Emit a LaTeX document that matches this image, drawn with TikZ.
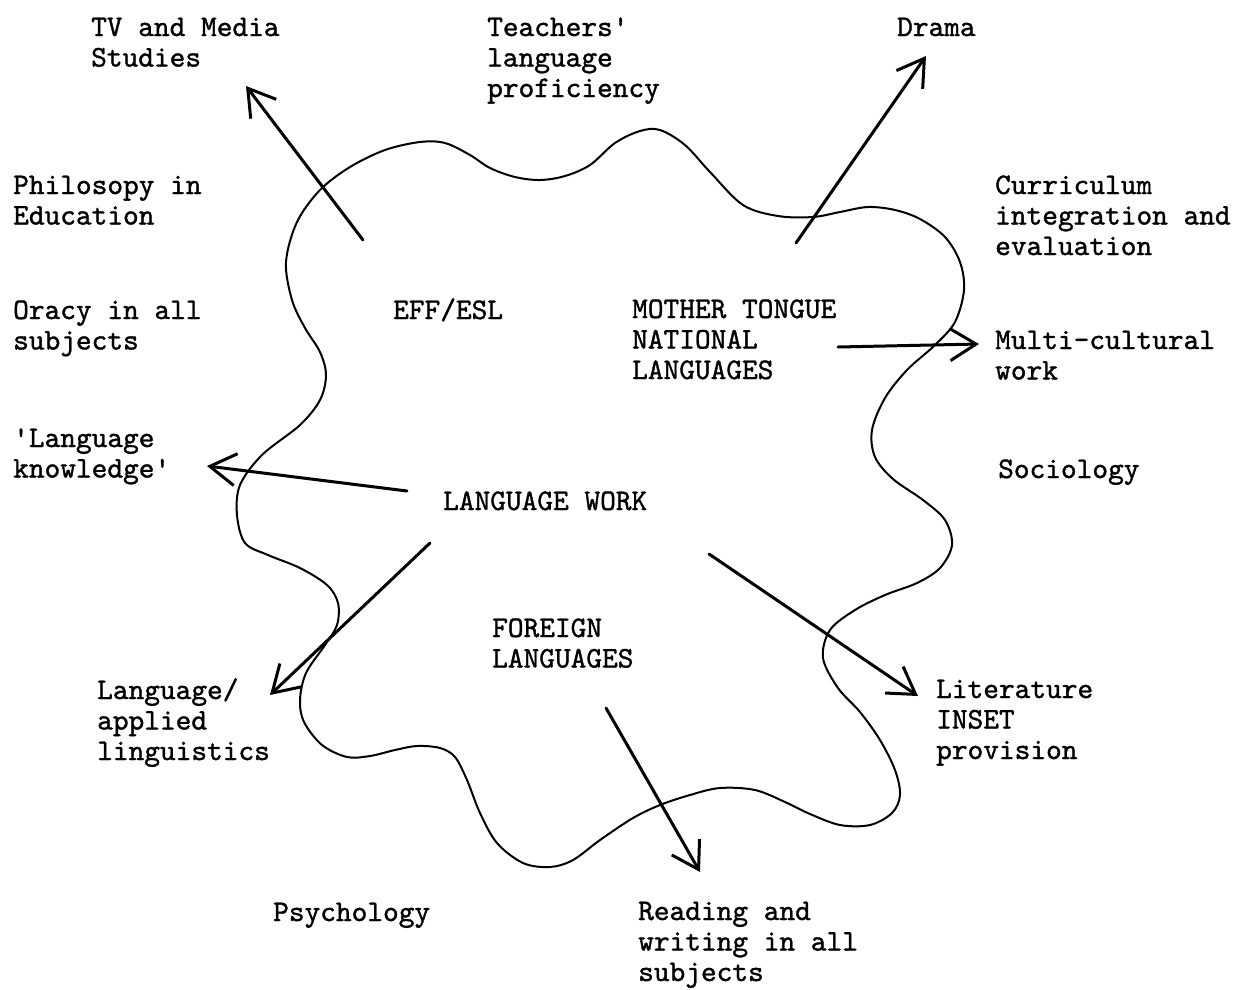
\documentclass[tikz,border=0pt]{standalone}
\usepackage{fontspec}
\setmonofont{lmmono10-regular.otf}[FakeBold=1.2]
\usetikzlibrary{arrows.meta}
\begin{document}
\begin{tikzpicture}[x=1pt,y=-1pt,
  lbl/.style={anchor=base west, inner sep=0pt, align=left,
              font=\fontsize{29.9}{30.5}\selectfont\ttfamily},
  link/.style={line width=3pt, line cap=round,
               -{Straight Barb[length=26pt,width=32pt,line width=3pt]}},
  blob/.style={line width=2pt, line join=round}]
\useasboundingbox (0,0) rectangle (1235,989);

% wavy outline of the central area
\draw[blob] plot[smooth cycle, tension=0.55] coordinates {
  (286,262) (297,222) (320,190) (350,167) (385,150) (420,142) (445,143)
  (470,155) (490,168) (515,177) (540,180) (565,176) (590,165) (615,143)
  (640,131) (660,130) (685,145) (710,172) (743,205) (778,216) (813,217)
  (840,212) (868,207) (895,210) (920,219) (945,237) (960,262) (964,290)
  (955,322) (935,345) (907,370) (885,398) (872,430) (875,457) (893,479)
  (923,500) (945,520) (952,545) (940,568) (917,583) (885,595) (855,610)
  (830,630) (823,658) (838,688) (860,712) (880,740) (895,770) (900,795)
  (892,813) (870,825) (840,825) (810,814) (785,802) (755,790) (720,788)
  (690,795) (660,805) (633,818) (600,840) (573,860) (550,867) (523,863)
  (497,843) (480,813) (467,780) (455,757) (440,748) (417,746) (395,750)
  (370,756) (347,757) (322,745) (304,722) (300,700) (306,673) (325,645)
  (337,625) (338,603) (327,585) (300,568) (268,555) (245,543) (237,515)
  (240,485) (262,455) (300,425) (320,400) (326,375) (320,352) (305,328)
  (292,300)};

% labels inside the outline (anchored at the baseline of their last line)
\node[lbl] (eff)     at (393,319)   {EFF/ESL};
\node[lbl] (mother)  at (632,379)   {MOTHER TONGUE\\NATIONAL\\LANGUAGES};
\node[lbl] (work)    at (443,510)   {LANGUAGE WORK};
\node[lbl] (foreign) at (492,667.5) {FOREIGN\\LANGUAGES};

% labels around the outline
\node[lbl] (tv)      at (91,66.5)   {TV and Media\\Studies};
\node[lbl] (teach)   at (487,97)    {Teachers'\\language\\proficiency};
\node[lbl] (drama)   at (897,36)    {Drama};
\node[lbl] (philo)   at (13,224.5)  {Philosopy in\\Education};
\node[lbl] (curric)  at (995,255)   {Curriculum\\integration and\\evaluation};
\node[lbl] (oracy)   at (13,349.5)  {Oracy in all\\subjects};
\node[lbl] (multi)   at (995,379.5) {Multi-cultural\\work};
\node[lbl] (knowl)   at (13,477.5)  {'Language\\knowledge'};
\node[lbl] (socio)   at (998,478)   {Sociology};
\node[lbl] (applied) at (97,760)    {Language/\\applied\\linguistics};
\node[lbl] (lit)     at (936,759)   {Literature\\INSET\\provision};
\node[lbl] (psych)   at (273,921)   {Psychology};
\node[lbl] (read)    at (638,981)   {Reading and\\writing in all\\subjects};

% arrow ends
\coordinate (tvS)    at (363,240); \coordinate (tvE)    at (246,86);
\coordinate (drS)    at (796,243); \coordinate (drE)    at (926,56);
\coordinate (muS)    at (838,347); \coordinate (muE)    at (979,344);
\coordinate (knS)    at (407,491); \coordinate (knE)    at (207,466);
\coordinate (apS)    at (430,543); \coordinate (apE)    at (270,695);
\coordinate (liS)    at (709,554); \coordinate (liE)    at (918,696);
\coordinate (reS)    at (606,708); \coordinate (reE)    at (700,872);

\draw[link] (tvS) -- (tvE);
\draw[link] (drS) -- (drE);
\draw[link] (muS) -- (muE);
\draw[link] (knS) -- (knE);
\draw[link] (apS) -- (apE);
\draw[link] (liS) -- (liE);
\draw[link] (reS) -- (reE);
\end{tikzpicture}
\end{document}
